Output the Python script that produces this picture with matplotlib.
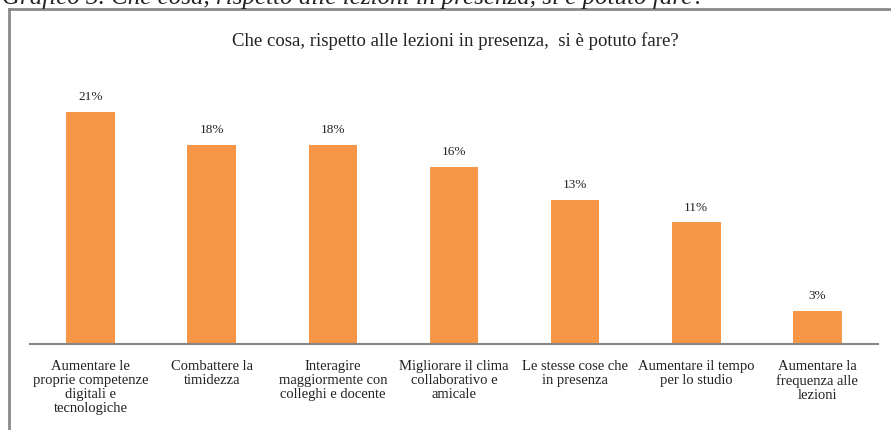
import matplotlib.pyplot as plt
from matplotlib.lines import Line2D

categories = [
    "Aumentare le\nproprie competenze\ndigitali e\ntecnologiche",
    "Combattere la\ntimidezza",
    "Interagire\nmaggiormente con\ncolleghi e docente",
    "Migliorare il clima\ncollaborativo e\namicale",
    "Le stesse cose che\nin presenza",
    "Aumentare il tempo\nper lo studio",
    "Aumentare la\nfrequenza alle\nlezioni",
]
percentages = [21, 18, 18, 16, 13, 11, 3]

caption = "Grafico 3. Che cosa, rispetto alle lezioni in presenza, si è potuto fare?"
title = "Che cosa, rispetto alle lezioni in presenza,  si è potuto fare?"

serif = ["Liberation Serif", "DejaVu Serif"]
text_color = "#222222"
bar_color = "#F79646"

W, H = 891, 431
fig = plt.figure(figsize=(W / 100, H / 100), dpi=100)

# caption of the page, only its lower part falls inside the image
fig.text(2 / W, 1 - 4 / H, caption, fontsize=18, style="italic",
         family=serif, color=text_color, va="baseline", ha="left")

# frame around the chart area
frame = dict(color="#8a8a8a", linewidth=2, transform=fig.transFigure)
fig.add_artist(Line2D([9 / W, 1], [1 - 10 / H, 1 - 10 / H], **frame))
fig.add_artist(Line2D([9 / W, 9 / W], [0, 1 - 10 / H], **frame))

fig.text(455 / W, 1 - 41 / H, title, fontsize=13.5, family=serif,
         color=text_color, ha="center", va="center")

ax = fig.add_axes([30 / W, 86 / H, 848 / W, 285 / H])
x = range(len(categories))
bars = ax.bar(x, percentages, width=0.4, color=bar_color)

for rect, v in zip(bars, percentages):
    ax.text(rect.get_x() + rect.get_width() / 2, v + 0.9, f"{v}%",
            ha="center", va="bottom", fontsize=9.5, family=serif,
            color=text_color)

ax.set_xlim(-0.5, len(categories) - 0.5)
ax.set_ylim(0, 25.8)
ax.set_xticks(list(x))
ax.set_xticklabels(categories, fontsize=10.5, family=serif, color=text_color,
                   linespacing=1.1)
ax.tick_params(axis="x", length=0, pad=11)
ax.set_yticks([])
for side in ["top", "right", "left"]:
    ax.spines[side].set_visible(False)
ax.spines["bottom"].set_color("#868686")
ax.spines["bottom"].set_linewidth(1.5)

plt.savefig("out.png", dpi=100)
plt.close()
